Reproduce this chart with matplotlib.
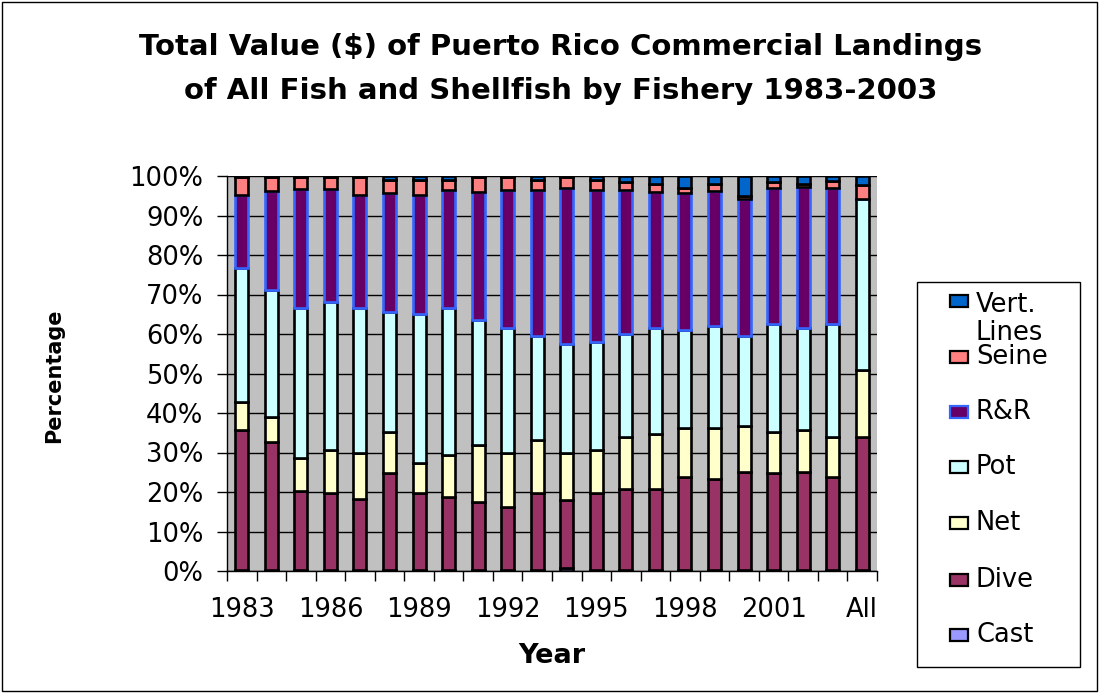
import numpy as np
import matplotlib
matplotlib.use("Agg")
import matplotlib.pyplot as plt
from matplotlib.patches import Rectangle

# Categories
years = [str(y) for y in range(1983, 2004)] + ["All"]

# Share of total landing value (%) by fishery, bottom to top
cast = [0.2, 0.2, 0.2, 0.2, 0.2, 0.2, 0.2, 0.2, 0.2, 0.2, 0.2,
        0.8, 0.2, 0.2, 0.2, 0.2, 0.2, 0.2, 0.2, 0.2, 0.2, 0.2]
dive = [35.5, 32.5, 20.1, 19.5, 18.0, 24.5, 19.5, 18.5, 17.3, 15.9, 19.5,
        17.3, 19.5, 20.5, 20.5, 23.5, 23.0, 24.9, 24.5, 24.9, 23.5, 33.6]
net = [7.2, 6.2, 8.4, 10.9, 11.6, 10.6, 7.6, 10.7, 14.4, 13.7, 13.5,
       11.7, 10.9, 13.1, 14.0, 12.6, 13.1, 11.7, 10.6, 10.6, 10.1, 17.1]
pot = [33.7, 32.2, 37.8, 37.6, 36.7, 30.3, 37.7, 37.1, 31.6, 31.6, 26.3,
       27.7, 27.5, 26.2, 26.7, 24.7, 25.7, 22.7, 27.2, 25.7, 28.7, 43.4]
rr = [18.6, 25.2, 30.2, 28.5, 28.7, 30.0, 30.2, 30.0, 32.4, 35.1, 37.0,
      39.4, 38.4, 36.5, 34.6, 34.8, 34.3, 34.8, 34.4, 35.9, 34.4, 0.0]
seine = [4.5, 3.4, 3.0, 3.0, 4.5, 3.4, 3.8, 2.5, 3.8, 3.2, 2.5,
         2.8, 2.5, 2.1, 2.1, 1.2, 1.6, 0.7, 1.5, 0.8, 1.9, 3.4]
vert_lines = [0.3, 0.3, 0.3, 0.3, 0.3, 1.0, 1.0, 1.0, 0.3, 0.3, 1.0,
              0.3, 1.0, 1.4, 1.9, 3.0, 2.1, 5.0, 1.6, 1.9, 1.2, 2.3]

y_ticks = [0, 10, 20, 30, 40, 50, 60, 70, 80, 90, 100]

series = [
    ("Cast", cast, "#9999FF", "black"),
    ("Dive", dive, "#993366", "black"),
    ("Net", net, "#FFFFCC", "black"),
    ("Pot", pot, "#CCFFFF", "black"),
    ("R&R", rr, "#660066", "#3366FF"),
    ("Seine", seine, "#FF8080", "black"),
    ("Vert.\nLines", vert_lines, "#0066CC", "black"),
]

FONT = "DejaVu Sans"
plt.rcParams["font.family"] = FONT

W, H = 1099, 694
fig = plt.figure(figsize=(W / 100, H / 100), dpi=100)
fig.patch.set_facecolor("white")

def fx(px):
    return px / W

def fy(py):
    return 1 - py / H

ax = fig.add_axes([fx(227), fy(571), fx(877) - fx(227), fy(176) - fy(571)])
ax.set_facecolor("#C0C0C0")

x = np.arange(len(years))
bottom = np.zeros(len(years))
for name, vals, color, edge in series:
    vals = np.asarray(vals, dtype=float)
    ax.bar(x, vals, width=0.44, bottom=bottom, color=color,
           edgecolor=edge, linewidth=1.9, zorder=3)
    bottom += vals

ax.set_xlim(-0.5, len(years) - 0.5)
ax.set_ylim(0, 100)

ax.set_yticks(y_ticks)
ax.set_yticklabels([f"{v}%" for v in y_ticks])
ax.yaxis.grid(True, color="black", linewidth=1.0, zorder=1)
ax.set_axisbelow(True)

# Category boundaries carry the tick marks; labels sit under every third bar
ax.set_xticks(np.arange(-0.5, len(years)), minor=False)
ax.set_xticklabels([])
ax.set_xticks(x[::3], minor=True)
ax.set_xticklabels([years[i] for i in x[::3]], minor=True)
ax.tick_params(axis="x", which="major", length=7, width=1, direction="out")
ax.tick_params(axis="x", which="minor", length=0, pad=19, labelsize=18.5)
ax.tick_params(axis="y", length=7, width=1, direction="out", pad=10,
               labelsize=18.5)

for side in ("top", "right"):
    ax.spines[side].set_visible(False)
for side in ("left", "bottom"):
    ax.spines[side].set_color("black")
    ax.spines[side].set_linewidth(1.0)

ax.set_xlabel("Year", fontsize=19.5, fontweight="bold", labelpad=14)
ax.set_ylabel("Percentage", fontsize=15, fontweight="bold")
ax.yaxis.set_label_coords((64 - 227) / 650, (571 - 376) / 395)

fig.text(fx(561), fy(33), "Total Value ($) of Puerto Rico Commercial Landings\n"
         "of All Fish and Shellfish by Fishery 1983-2003",
         ha="center", va="top", fontsize=21, fontweight="bold",
         linespacing=1.72)

# Legend panel, top entry first
fig.patches.append(Rectangle((fx(917), fy(667)), fx(1080) - fx(917),
                             fy(282) - fy(667), transform=fig.transFigure,
                             facecolor="white", edgecolor="black",
                             linewidth=1.0))
legend_rows = [301, 357, 412, 467, 523, 580, 635]
for (name, _, color, edge), row in zip(series[::-1], legend_rows):
    fig.patches.append(Rectangle((fx(950), fy(row + 6)), fx(18), 12 / H,
                                 transform=fig.transFigure, facecolor=color,
                                 edgecolor=edge, linewidth=1.6))
    # baseline of the last line; wrapped labels grow upward from it
    extra = 32 * name.count("\n")
    fig.text(fx(976), fy(row + 7 + extra), name, ha="left", va="baseline",
             fontsize=18.5, linespacing=1.12)

# Outer frame
fig.patches.append(Rectangle((fx(2), fy(691)), fx(1095), fy(2) - fy(691),
                             transform=fig.transFigure, fill=False,
                             edgecolor="black", linewidth=1.0))

fig.savefig("out.png", dpi=100)
